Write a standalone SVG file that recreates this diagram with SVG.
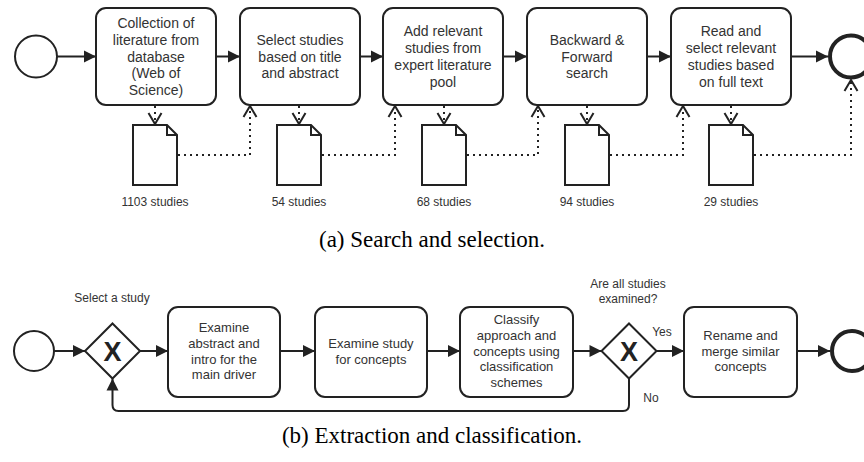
<svg xmlns="http://www.w3.org/2000/svg" width="864" height="462" viewBox="0 0 864 462">
<style>
.box{fill:#fff;stroke:#222;stroke-width:2}
.ev{fill:#fff;stroke:#222;stroke-width:2}
.end{fill:#fff;stroke:#222;stroke-width:4}
.doc{fill:#fff;stroke:#222;stroke-width:2;stroke-linejoin:miter}
.flow{fill:none;stroke:#222;stroke-width:2}
.assoc{fill:none;stroke:#222;stroke-width:2;stroke-dasharray:2 4}
.t14{font-family:"Liberation Sans",Arial,sans-serif;font-size:14px;fill:#333;text-anchor:middle}
.t13{font-family:"Liberation Sans",Arial,sans-serif;font-size:13px;fill:#333;text-anchor:middle}
.t12{font-family:"Liberation Sans",Arial,sans-serif;font-size:12px;fill:#333;text-anchor:middle}
.gx{font-family:"Liberation Sans",Arial,sans-serif;font-size:27px;font-weight:bold;fill:#222;text-anchor:middle}
.cap{font-family:"Liberation Serif","Times New Roman",serif;font-size:23px;fill:#000;text-anchor:middle}
</style>
<defs>
<marker id="fa" markerUnits="userSpaceOnUse" markerWidth="13" markerHeight="12" refX="12" refY="6" orient="auto" overflow="visible">
<path d="M0,0 L12,6 L0,12 Z" fill="#222"/>
</marker>
<marker id="oa" markerUnits="userSpaceOnUse" markerWidth="14" markerHeight="14" refX="11" refY="6.5" orient="auto" overflow="visible">
<path d="M0,0 L11,6.5 L0,13" fill="none" stroke="#222" stroke-width="2"/>
</marker>
</defs>

<!-- (a) Search and selection -->
<g id="a-start"><circle class="ev" cx="36" cy="56.5" r="21"/></g>
<g id="a-task1"><rect class="box" x="96" y="8" width="120" height="97" rx="10"/>
<text class="t14"><tspan x="156" y="28">Collection of</tspan><tspan x="156" y="44.7">literature from</tspan><tspan x="156" y="61.5">database</tspan><tspan x="156" y="78.3">(Web of</tspan><tspan x="156" y="95.1">Science)</tspan></text></g>
<g id="a-task2"><rect class="box" x="240" y="8" width="120" height="97" rx="10"/>
<text class="t14"><tspan x="300" y="44.7">Select studies</tspan><tspan x="300" y="61.5">based on title</tspan><tspan x="300" y="78.3">and abstract</tspan></text></g>
<g id="a-task3"><rect class="box" x="383" y="8" width="120" height="97" rx="10"/>
<text class="t14"><tspan x="443" y="36.3">Add relevant</tspan><tspan x="443" y="53.1">studies from</tspan><tspan x="443" y="69.9">expert literature</tspan><tspan x="443" y="86.7">pool</tspan></text></g>
<g id="a-task4"><rect class="box" x="527" y="8" width="120" height="97" rx="10"/>
<text class="t14"><tspan x="587" y="44.7">Backward &amp;</tspan><tspan x="587" y="61.5">Forward</tspan><tspan x="587" y="78.3">search</tspan></text></g>
<g id="a-task5"><rect class="box" x="671" y="8" width="120" height="97" rx="10"/>
<text class="t14"><tspan x="731" y="36.3">Read and</tspan><tspan x="731" y="53.1">select relevant</tspan><tspan x="731" y="69.9">studies based</tspan><tspan x="731" y="86.7">on full text</tspan></text></g>
<g id="a-end"><circle class="end" cx="851" cy="56.5" r="21"/></g>

<g id="a-doc1"><path class="doc" d="M133,125 H167 L177,135 V185 H133 Z M167,125 V135 H177"/><text class="t12" x="155" y="206">1103 studies</text></g>
<g id="a-doc2"><path class="doc" d="M277,125 H311 L321,135 V185 H277 Z M311,125 V135 H321"/><text class="t12" x="299" y="206">54 studies</text></g>
<g id="a-doc3"><path class="doc" d="M422,125 H456 L466,135 V185 H422 Z M456,125 V135 H466"/><text class="t12" x="444" y="206">68 studies</text></g>
<g id="a-doc4"><path class="doc" d="M565,125 H599 L609,135 V185 H565 Z M599,125 V135 H609"/><text class="t12" x="587" y="206">94 studies</text></g>
<g id="a-doc5"><path class="doc" d="M709,125 H743 L753,135 V185 H709 Z M743,125 V135 H753"/><text class="t12" x="731" y="206">29 studies</text></g>

<g id="a-connectors">
<line class="flow" x1="57" y1="56.5" x2="96" y2="56.5" marker-end="url(#fa)"/>
<line class="flow" x1="216" y1="56.5" x2="240" y2="56.5" marker-end="url(#fa)"/>
<line class="flow" x1="360" y1="56.5" x2="383" y2="56.5" marker-end="url(#fa)"/>
<line class="flow" x1="503" y1="56.5" x2="527" y2="56.5" marker-end="url(#fa)"/>
<line class="flow" x1="647" y1="56.5" x2="671" y2="56.5" marker-end="url(#fa)"/>
<line class="flow" x1="791" y1="56.5" x2="828" y2="56.5" marker-end="url(#fa)"/>
<line class="assoc" x1="155" y1="106" x2="155" y2="124" marker-end="url(#oa)"/>
<line class="assoc" x1="299" y1="106" x2="299" y2="124" marker-end="url(#oa)"/>
<line class="assoc" x1="444" y1="106" x2="444" y2="124" marker-end="url(#oa)"/>
<line class="assoc" x1="587" y1="106" x2="587" y2="124" marker-end="url(#oa)"/>
<line class="assoc" x1="731" y1="106" x2="731" y2="124" marker-end="url(#oa)"/>
<polyline class="assoc" points="178,155 250,155 250,106" marker-end="url(#oa)"/>
<polyline class="assoc" points="322,155 395,155 395,106" marker-end="url(#oa)"/>
<polyline class="assoc" points="467,155 538,155 538,106" marker-end="url(#oa)"/>
<polyline class="assoc" points="610,155 683,155 683,106" marker-end="url(#oa)"/>
<polyline class="assoc" points="754,155 851,155 851,80" marker-end="url(#oa)"/>
</g>
<text class="cap" x="432" y="247">(a) Search and selection.</text>

<!-- (b) Extraction and classification -->
<g id="b-start"><circle class="ev" cx="34" cy="351" r="20"/></g>
<g id="b-gw1"><path class="box" d="M112.5,323.5 L140,351 L112.5,378.5 L85,351 Z"/><text class="gx" x="112.5" y="361">X</text>
<text class="t12" x="112" y="302">Select a study</text></g>
<g id="b-task1"><rect class="box" x="168" y="307" width="112" height="90" rx="10"/>
<text class="t13"><tspan x="224" y="332">Examine</tspan><tspan x="224" y="347.8">abstract and</tspan><tspan x="224" y="363.5">intro for the</tspan><tspan x="224" y="379.2">main driver</tspan></text></g>
<g id="b-task2"><rect class="box" x="315" y="307" width="112" height="90" rx="10"/>
<text class="t13"><tspan x="371" y="347.8">Examine study</tspan><tspan x="371" y="363.5">for concepts</tspan></text></g>
<g id="b-task3"><rect class="box" x="460" y="307" width="113" height="90" rx="10"/>
<text class="t13"><tspan x="516.5" y="324.3">Classify</tspan><tspan x="516.5" y="340">approach and</tspan><tspan x="516.5" y="355.7">concepts using</tspan><tspan x="516.5" y="371.4">classification</tspan><tspan x="516.5" y="387.1">schemes</tspan></text></g>
<g id="b-gw2"><path class="box" d="M629,323.5 L656.5,351 L629,378.5 L601.5,351 Z"/><text class="gx" x="629" y="361">X</text>
<text class="t12"><tspan x="628" y="288">Are all studies</tspan><tspan x="628" y="303">examined?</tspan></text></g>
<g id="b-task4"><rect class="box" x="684" y="307" width="113" height="90" rx="10"/>
<text class="t13"><tspan x="740.5" y="340">Rename and</tspan><tspan x="740.5" y="355.7">merge similar</tspan><tspan x="740.5" y="371.4">concepts</tspan></text></g>
<g id="b-end"><circle class="end" cx="852" cy="351" r="20"/></g>

<g id="b-connectors">
<line class="flow" x1="54" y1="351" x2="85" y2="351" marker-end="url(#fa)"/>
<line class="flow" x1="140" y1="351" x2="168" y2="351" marker-end="url(#fa)"/>
<line class="flow" x1="280" y1="351" x2="315" y2="351" marker-end="url(#fa)"/>
<line class="flow" x1="427" y1="351" x2="460" y2="351" marker-end="url(#fa)"/>
<line class="flow" x1="573" y1="351" x2="601.5" y2="351" marker-end="url(#fa)"/>
<line class="flow" x1="656.5" y1="351" x2="684" y2="351" marker-end="url(#fa)"/>
<line class="flow" x1="797" y1="351" x2="830" y2="351" marker-end="url(#fa)"/>
<path class="flow" d="M629,378.5 V405 Q629,411 623,411 H118.5 Q112.5,411 112.5,405 V378.5" marker-end="url(#fa)"/>
<text class="t12" x="662" y="336">Yes</text>
<text class="t12" x="651" y="402">No</text>
</g>
<text class="cap" x="432" y="443">(b) Extraction and classification.</text>
</svg>
